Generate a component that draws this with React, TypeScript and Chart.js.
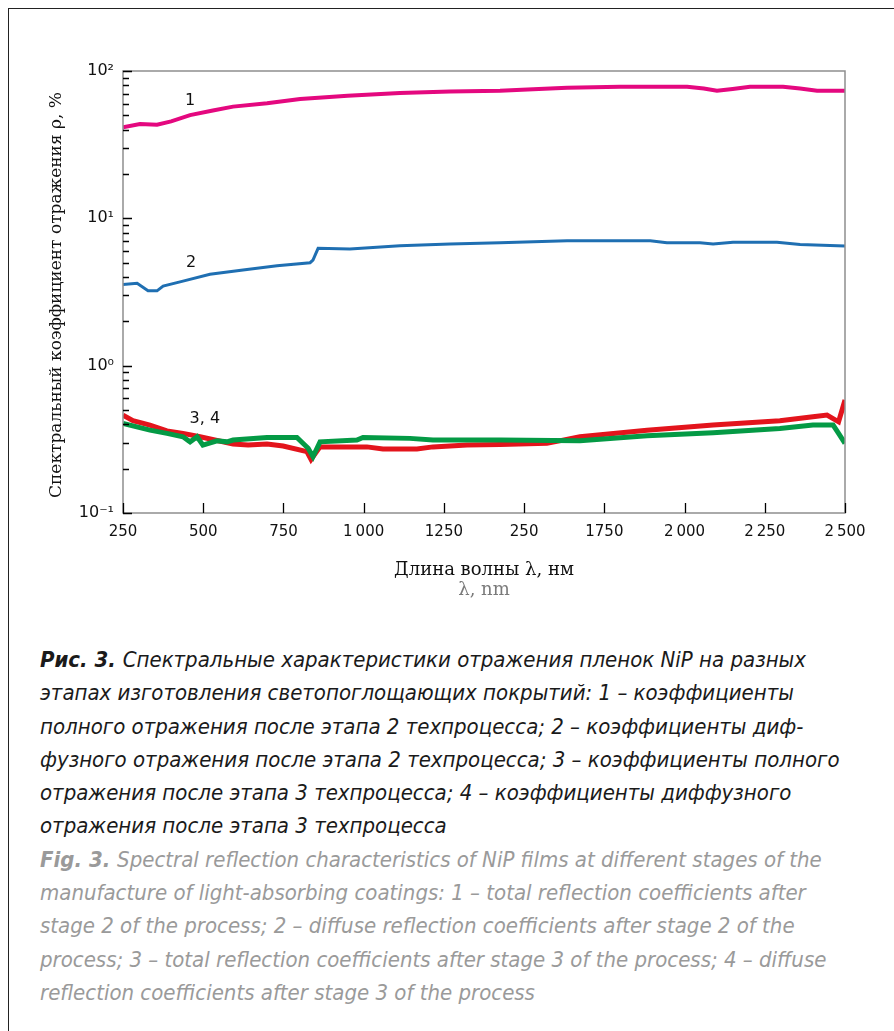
import React, { useEffect, useRef } from "react";
import { Chart, registerables } from "chart.js";

Chart.register(...registerables);

// ---- data ----
const lambda1 = [250, 303, 356, 400, 459, 530, 593, 699, 802, 950, 1113, 1269, 1425, 1528, 1634, 1799, 2008, 2060, 2101, 2150, 2204, 2307, 2360, 2413, 2500];
const total2 = [41.5, 43.6, 43.2, 45.5, 50.2, 54, 57.3, 60.4, 64.5, 68, 71, 72.6, 73.5, 75.2, 77.0, 78.2, 78.2, 76, 73.5, 75.5, 78.2, 78.2, 76, 73.5, 73.5];

const lambda2 = [250, 294, 328, 356, 375, 437, 521, 624, 730, 833, 842, 858, 957, 1113, 1269, 1425, 1634, 1893, 1945, 2048, 2089, 2151, 2288, 2360, 2500];
const diffuse2 = [3.56, 3.62, 3.22, 3.22, 3.47, 3.75, 4.17, 4.46, 4.77, 5.0, 5.21, 6.26, 6.19, 6.52, 6.7, 6.83, 7.05, 7.05, 6.83, 6.83, 6.69, 6.88, 6.88, 6.65, 6.49];

const lambda3 = [250, 281, 334, 387, 437, 490, 593, 640, 699, 749, 823, 836, 864, 1010, 1060, 1166, 1216, 1322, 1425, 1571, 1674, 1883, 2089, 2297, 2400, 2444, 2480, 2500];
const total3 = [0.462, 0.423, 0.395, 0.361, 0.347, 0.329, 0.294, 0.289, 0.294, 0.285, 0.261, 0.231, 0.281, 0.281, 0.272, 0.272, 0.281, 0.289, 0.292, 0.297, 0.329, 0.365, 0.395, 0.423, 0.45, 0.462, 0.416, 0.584];

const lambda4 = [250, 334, 387, 437, 459, 481, 499, 543, 574, 593, 699, 792, 827, 842, 864, 979, 998, 1144, 1216, 1425, 1674, 1883, 2089, 2297, 2400, 2463, 2480, 2500];
const diffuse3 = [0.406, 0.365, 0.347, 0.329, 0.304, 0.329, 0.289, 0.309, 0.304, 0.313, 0.326, 0.326, 0.275, 0.241, 0.304, 0.313, 0.326, 0.321, 0.313, 0.313, 0.309, 0.334, 0.35, 0.375, 0.395, 0.395, 0.347, 0.297];

const xTickValues = [250, 500, 750, 1000, 1250, 1500, 1750, 2000, 2250, 2500];
const xTickLabels = ["250", "500", "750", "1\u2009000", "1250", "250", "1750", "2\u2009000", "2\u2009250", "2\u2009500"];
const yTickValues = [0.1, 1, 10, 100];
const yTickLabels = ["10\u207B\u00B9", "10\u2070", "10\u00B9", "10\u00B2"];

const curveLabels = ["1", "2", "3, 4"];
const curveLabelX = [459, 462, 505];
const curveLabelY = [62.5, 4.97, 0.434];

const yTitle = "Спектральный коэффициент отражения ρ, %";
const xTitle = "Длина волны λ, нм";
const xTitleEn = "λ, nm";

const captionRu = [
  "Спектральные характеристики отражения пленок NiP на разных",
  "этапах изготовления светопоглощающих покрытий: 1 – коэффициенты",
  "полного отражения после этапа 2 техпроцесса; 2 – коэффициенты диф-",
  "фузного отражения после этапа 2 техпроцесса; 3 – коэффициенты полного",
  "отражения после этапа 3 техпроцесса; 4 – коэффициенты диффузного",
  "отражения после этапа 3 техпроцесса",
];
const captionEn = [
  "Spectral reflection characteristics of NiP films at different stages of the",
  "manufacture of light-absorbing coatings: 1 – total reflection coefficients after",
  "stage 2 of the process; 2 – diffuse reflection coefficients after stage 2 of the",
  "process; 3 – total reflection coefficients after stage 3 of the process; 4 – diffuse",
  "reflection coefficients after stage 3 of the process",
];

const toPts = (xs: number[], ys: number[]) => xs.map((x, i) => ({ x, y: ys[i] }));

const decor = {
  id: "decor",
  afterDraw(chart: any) {
    const { ctx, chartArea: ca, scales } = chart;
    const x = scales.x;
    const y = scales.y;
    ctx.save();
    // frame
    ctx.strokeStyle = "#8e8e8e";
    ctx.lineWidth = 1.5;
    ctx.beginPath();
    ctx.moveTo(ca.left, ca.top);
    ctx.lineTo(ca.right, ca.top);
    ctx.lineTo(ca.right, ca.bottom);
    ctx.lineTo(ca.left, ca.bottom);
    ctx.closePath();
    ctx.stroke();
    // ticks
    ctx.strokeStyle = "#000";
    ctx.lineWidth = 1.3;
    ctx.beginPath();
    yTickValues.forEach((v) => {
      const py = Math.round(y.getPixelForValue(v)) + 0.5;
      ctx.moveTo(ca.left, py);
      ctx.lineTo(ca.left + 9, py);
      if (v < 100) {
        for (let m = 2; m <= 9; m++) {
          const q = Math.round(y.getPixelForValue(v * m)) + 0.5;
          ctx.moveTo(ca.left, q);
          ctx.lineTo(ca.left + 6, q);
        }
      }
    });
    xTickValues.forEach((v) => {
      const px = Math.round(x.getPixelForValue(v)) + 0.5;
      ctx.moveTo(px, ca.bottom);
      ctx.lineTo(px, ca.bottom - 10);
    });
    ctx.stroke();
    // curve labels
    ctx.fillStyle = "#111";
    ctx.font = '16px "DejaVu Sans"';
    ctx.textAlign = "center";
    ctx.textBaseline = "middle";
    curveLabels.forEach((t, i) => {
      ctx.fillText(t, x.getPixelForValue(curveLabelX[i]), y.getPixelForValue(curveLabelY[i]));
    });
    // axis titles
    ctx.font = '17px "DejaVu Serif"';
    ctx.fillStyle = "#111";
    ctx.save();
    ctx.translate(57, (ca.top + ca.bottom) / 2 + 3);
    ctx.rotate(-Math.PI / 2);
    ctx.fillText(yTitle, 0, 0);
    ctx.restore();
    const cx = (ca.left + ca.right) / 2;
    ctx.font = '18px "DejaVu Serif"';
    ctx.fillText(xTitle, cx, ca.bottom + 57);
    ctx.fillStyle = "#7a7a7a";
    ctx.fillText(xTitleEn, cx, ca.bottom + 77);
    ctx.restore();
  },
};

function ChartBox() {
  const ref = useRef<HTMLCanvasElement>(null);
  useEffect(() => {
    if (!ref.current) return;
    const chart = new Chart(ref.current, {
      type: "line",
      data: {
        datasets: [
          { label: "1", data: toPts(lambda1, total2), borderColor: "#e4087f", borderWidth: 4, pointRadius: 0, tension: 0, order: 1 },
          { label: "2", data: toPts(lambda2, diffuse2), borderColor: "#1f6fb2", borderWidth: 3, pointRadius: 0, tension: 0, order: 1 },
          { label: "3", data: toPts(lambda3, total3), borderColor: "#e3141c", borderWidth: 5, pointRadius: 0, tension: 0, order: 2 },
          { label: "4", data: toPts(lambda4, diffuse3), borderColor: "#049a45", borderWidth: 5, pointRadius: 0, tension: 0, order: 0 },
        ],
      },
      options: {
        responsive: false,
        animation: false,
        devicePixelRatio: 1,
        layout: { padding: { top: 71, right: 49, left: 0, bottom: 0 } },
        plugins: { legend: { display: false }, tooltip: { enabled: false } },
        scales: {
          x: {
            type: "linear",
            min: 250,
            max: 2500,
            grid: { display: false, drawTicks: false },
            border: { display: false },
            afterBuildTicks: (s: any) => {
              s.ticks = xTickValues.map((v) => ({ value: v }));
            },
            afterFit: (s: any) => {
              s.height = 97;
            },
            ticks: {
              autoSkip: false,
              maxRotation: 0,
              padding: 10,
              color: "#111",
              font: { family: "DejaVu Sans", size: 15 },
              callback: (_v: any, i: number) => xTickLabels[i],
            },
          },
          y: {
            type: "logarithmic",
            min: 0.1,
            max: 100,
            grid: { display: false, drawTicks: false },
            border: { display: false },
            afterBuildTicks: (s: any) => {
              s.ticks = yTickValues.map((v) => ({ value: v, major: true }));
            },
            afterFit: (s: any) => {
              s.width = 123;
            },
            ticks: {
              autoSkip: false,
              padding: 9,
              color: "#111",
              font: { family: "DejaVu Sans", size: 16 },
              callback: (_v: any, i: number) => yTickLabels[i],
            },
          },
        },
      },
      plugins: [decor],
    });
    return () => chart.destroy();
  }, []);
  return <canvas ref={ref} width={894} height={610} style={{ position: "absolute", left: 0, top: 0, width: 894, height: 610 }} />;
}

export default function App() {
  const captionFont = '"Liberation Sans Narrow", "DejaVu Sans Condensed", "Open Sans", sans-serif';
  return (
    <div style={{ position: "absolute", left: 0, top: 0, width: 894, height: 1031, overflow: "hidden", background: "#fff" }}>
      <div style={{ position: "absolute", left: 8, top: 8, width: 1000, height: 1100, borderTop: "1.5px solid #222", borderLeft: "1.5px solid #222" }} />
      <ChartBox />
      <div
        style={{
          position: "absolute",
          left: 40,
          top: 643,
          fontFamily: captionFont,
          fontStyle: "italic",
          fontSize: 22,
          lineHeight: "33.3px",
          whiteSpace: "nowrap",
        }}
      >
        {captionRu.map((t, i) => (
          <div key={"r" + i} style={{ color: "#1a1a1a" }}>
            {i === 0 ? <b>Рис. 3. </b> : null}
            {t}
          </div>
        ))}
        {captionEn.map((t, i) => (
          <div key={"e" + i} style={{ color: "#9a9a9a" }}>
            {i === 0 ? <b>Fig. 3. </b> : null}
            {t}
          </div>
        ))}
      </div>
    </div>
  );
}
